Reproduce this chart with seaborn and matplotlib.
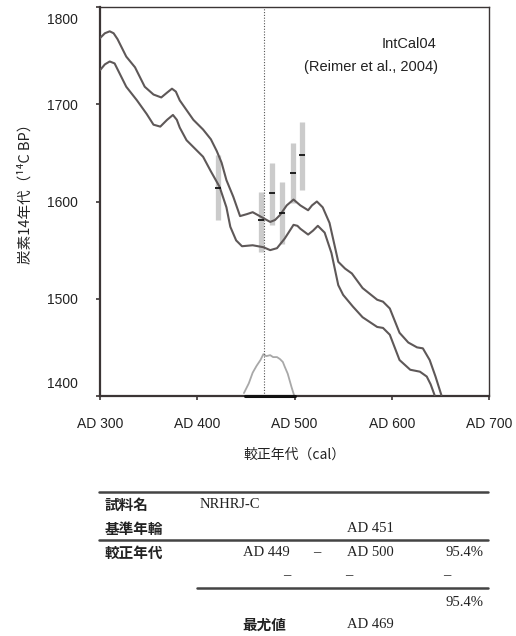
import matplotlib
matplotlib.use("Agg")
import matplotlib.pyplot as plt
import matplotlib.transforms as mtransforms
from matplotlib.lines import Line2D
import seaborn as sns
import pandas as pd

# ---------------- data ----------------
upper_year = [300, 305, 310, 314, 318, 327, 336, 346, 355, 363, 369, 374, 378, 382, 396, 406, 414, 420, 425,
              430, 437, 444, 451, 457, 466, 475, 480, 485, 492, 499, 506, 514, 518, 523, 529, 536,
              545, 552, 559, 570, 585, 591, 598, 608, 617, 626, 632, 639, 645, 651]
upper_c14 = [1768, 1773, 1775, 1773, 1767, 1749, 1738, 1718, 1710, 1707, 1712, 1716, 1713, 1704, 1684, 1674, 1664, 1652, 1640,
             1622, 1605, 1585, 1587, 1589, 1584, 1579, 1581, 1586, 1596, 1602, 1596, 1591, 1596, 1600, 1594, 1578,
             1538, 1531, 1526, 1511, 1499, 1497, 1490, 1465, 1455, 1450, 1449, 1437, 1420, 1401]

lower_year = [300, 305, 310, 315, 320, 327, 338, 348, 355, 362, 369, 375, 379, 382, 389, 397, 406, 414, 423,
              430, 434, 440, 446, 457, 468, 475, 482, 490, 499, 503, 506, 514, 519, 524, 531, 538, 545,
              550, 560, 570, 585, 591, 598, 608, 619, 629, 636, 640, 644]
lower_c14 = [1735, 1741, 1744, 1742, 1732, 1718, 1704, 1690, 1679, 1677, 1684, 1689, 1684, 1676, 1663, 1655, 1646, 1631, 1615,
             1594, 1574, 1560, 1554, 1555, 1553, 1550, 1552, 1562, 1576, 1575, 1572, 1566, 1570, 1575, 1568, 1547, 1514,
             1504, 1492, 1481, 1471, 1470, 1463, 1437, 1427, 1425, 1420, 1412, 1401]

sample_year = [421, 466, 477, 487, 498, 508]
sample_mean = [1614, 1581, 1609, 1588, 1629, 1648]
sample_lo = [1581, 1548, 1576, 1556, 1598, 1612]
sample_hi = [1648, 1610, 1640, 1620, 1660, 1682]

prob_year = [448, 453, 457, 461, 465, 468, 471, 475, 478, 482, 485, 488, 490, 493, 495, 497, 499.5]
prob_height = [1403, 1413, 1424, 1431, 1437, 1443, 1441, 1442, 1440, 1440, 1438, 1435, 1430, 1423, 1416, 1409, 1401]

range_lo, range_hi = 449, 500
best_year = 469

x_ticks = [300, 400, 500, 600, 700]
x_ticklabels = ["AD 300", "AD 400", "AD 500", "AD 600", "AD 700"]
y_ticks = [1400, 1500, 1600, 1700, 1800]
y_ticklabels = ["1400", "1500", "1600", "1700", "1800"]

# ---------------- style ----------------
sns.set_style("ticks")
plt.rcParams['font.family'] = ['Liberation Sans', 'Noto Sans CJK JP', 'DejaVu Sans']
JP = ['Noto Sans CJK JP', 'DejaVu Sans']
SERIF = ['Liberation Serif', 'Noto Sans CJK JP', 'DejaVu Serif']
dark = '#3b3535'
curve_col = '#5e5858'

fig = plt.figure(figsize=(5.16, 6.36), dpi=100)
ax = fig.add_axes([100/516, 1-396/636, 389/516, 389/636])

df_up = pd.DataFrame({'year': upper_year, 'c14': upper_c14})
df_lo = pd.DataFrame({'year': lower_year, 'c14': lower_c14})
df_p = pd.DataFrame({'year': prob_year, 'c14': prob_height})

# error bars
ax.vlines(sample_year, sample_lo, sample_hi, color='#cbcbcb', lw=3.8, zorder=1)

for d in (df_up, df_lo):
    sns.lineplot(data=d, x='year', y='c14', ax=ax, color=curve_col, lw=1.5,
                 sort=False, estimator=None, zorder=3, solid_joinstyle='round')
sns.lineplot(data=df_p, x='year', y='c14', ax=ax, color='#a8a8a8', lw=1.3,
             sort=False, estimator=None, zorder=2, solid_joinstyle='round')

ax.plot(sample_year, sample_mean, ls='none', marker='_', ms=5, mew=1.3, color='#111111', zorder=4)

ax.axvline(best_year, color='#555555', lw=0.8, ls=(0, (1, 1.5)), zorder=2)
ax.plot([range_lo, range_hi], [1400, 1400], color='#111111', lw=2.2, clip_on=False, zorder=5)

ax.set_xlim(300, 700)
ax.set_ylim(1400, 1800)
ax.set_xticks(x_ticks)
ax.set_xticklabels(x_ticklabels, fontsize=10, color='#222222')
ax.set_yticks(y_ticks)
ax.set_yticklabels(y_ticklabels, fontsize=10, color='#222222')
ax.tick_params(direction='out', length=3, width=1.2, color=dark)
ax.tick_params(axis='y', pad=13)
ax.tick_params(axis='x', pad=12)

for s in ['left', 'bottom']:
    ax.spines[s].set_color(dark)
    ax.spines[s].set_linewidth(1.6)
for s in ['top', 'right']:
    ax.spines[s].set_color(dark)
    ax.spines[s].set_linewidth(1.0)

# shift extreme y tick labels inward
for t, v in zip(ax.yaxis.get_major_ticks(), y_ticks):
    if v == 1800:
        off = mtransforms.ScaledTranslation(0, -11/100, fig.dpi_scale_trans)
        t.label1.set_transform(t.label1.get_transform() + off)
    elif v == 1400:
        off = mtransforms.ScaledTranslation(0, 13/100, fig.dpi_scale_trans)
        t.label1.set_transform(t.label1.get_transform() + off)

ax.set_xlabel('')
ax.set_ylabel('')
fig.text(294/516, 1-455/636, '較正年代（cal）', ha='center', va='center', fontsize=10, family=JP, color='#222222')
fig.text(25/516, 1-190/636, '炭素14年代（¹⁴C BP）', ha='center', va='center', rotation=90,
         fontsize=10.5, family=JP, color='#222222')

ax.text(0.864, 0.905, 'IntCal04', transform=ax.transAxes, ha='right', va='center', fontsize=10.5, color='#222222')
ax.text(0.869, 0.846, '(Reimer et al., 2004)', transform=ax.transAxes, ha='right', va='center', fontsize=10.5, color='#222222')

# ---------------- table ----------------
def hline(x0, x1, y):
    fig.add_artist(Line2D([x0/516, x1/516], [1-y/636, 1-y/636], color='#444444', lw=1.8))

hline(99, 488, 492)
hline(99, 488, 540)
hline(197, 488, 588)

def ftxt(x, y, s, ha='left', fam=JP, **kw):
    fig.text(x/516, 1-y/636, s, ha=ha, va='center', family=fam, color='#222222', **kw)

ftxt(105, 505, '試料名', fontsize=10.5, weight='bold')
ftxt(105, 529, '基準年輪', fontsize=10.5, weight='bold')
ftxt(105, 553, '較正年代', fontsize=10.5, weight='bold')
ftxt(242, 625, '最尤値', fontsize=10.5, weight='bold')

ftxt(200, 505, 'NRHRJ-C', fam=SERIF, fontsize=10.5)
ftxt(347, 529, 'AD 451', fam=SERIF, fontsize=10.5)
ftxt(290, 553, 'AD 449', ha='right', fam=SERIF, fontsize=10.5)
ftxt(317, 553, '–', ha='center', fam=SERIF, fontsize=10.5)
ftxt(347, 553, 'AD 500', fam=SERIF, fontsize=10.5)
ftxt(484, 553, '95.4%', ha='right', fam=SERIF, fontsize=10.5)
ftxt(287, 576, '–', ha='center', fam=SERIF, fontsize=10.5)
ftxt(349, 576, '–', ha='center', fam=SERIF, fontsize=10.5)
ftxt(447, 576, '–', ha='center', fam=SERIF, fontsize=10.5)
ftxt(484, 602, '95.4%', ha='right', fam=SERIF, fontsize=10.5)
ftxt(347, 625, 'AD 469', fam=SERIF, fontsize=10.5)

fig.savefig('out.png', dpi=100)
